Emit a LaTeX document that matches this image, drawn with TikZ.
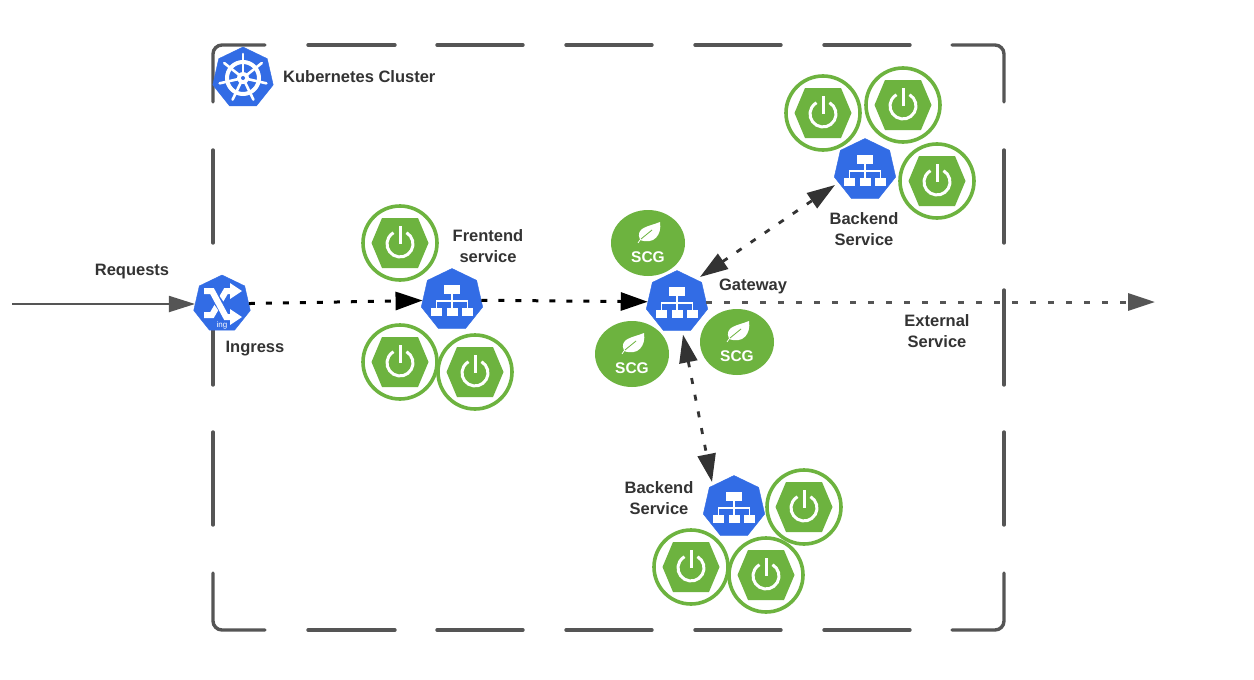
\documentclass[tikz,border=0pt]{standalone}
\usepackage{fontspec}
\setmainfont{Liberation Sans}
\usetikzlibrary{arrows.meta,shapes.geometric}
\definecolor{kblue}{HTML}{326CE5}
\definecolor{sgreen}{HTML}{6DB33F}
\definecolor{bordergray}{HTML}{555555}
\definecolor{lbl}{HTML}{333333}
\tikzset{
  kubeshape/.style={regular polygon,regular polygon sides=7,fill=kblue,draw=kblue,inner sep=0pt,minimum size=#1},
  podring/.style={circle,draw=sgreen,line width=3.6pt,fill=white,inner sep=0pt,minimum size=74pt},
  scgnode/.style={ellipse,fill=sgreen,inner sep=0pt,minimum width=74pt,minimum height=66pt},
  lab/.style={font=\fontsize{16.5}{20.5}\selectfont\bfseries,text=lbl,align=center,inner sep=0pt},
  frame/.style={draw=bordergray,line width=3.4pt,line cap=round,rounded corners=9pt},
  whiteline/.style={draw=white,line width=1.5pt},
  flow/.style={draw=black,line width=3pt,dash pattern=on 6pt off 11pt,-{Triangle[length=27pt,width=18pt]}},
  flowgray/.style={draw=bordergray,line width=3pt,dash pattern=on 6pt off 12pt,-{Triangle[length=27pt,width=17pt]}},
  twoway/.style={draw=lbl,line width=2.8pt,dash pattern=on 6pt off 11pt,{Triangle[length=28pt,width=18pt]}-{Triangle[length=28pt,width=18pt]}},
}
\newcommand{\powerpod}[3]{%
  \node[podring] (#1) at (#2,#3) {};
  \begin{scope}[shift={(#2,#3)}]
    \fill[sgreen] (-28.5,0) -- (-18,-25) -- (18,-25) -- (28.5,0) -- (18,25) -- (-18,25) -- cycle;
    \draw[white,line width=3pt] (6.5,-10.3) arc[start angle=300,end angle=600,radius=13];
    \draw[white,line width=3pt] (0,-17) -- (0,1);
  \end{scope}}
\newcommand{\svcnode}[4][63pt]{%
  \node[kubeshape=#1] (#2) at (#3,#4) {};
  \begin{scope}[shift={(#3,#4)}]
    \fill[white] (-8,-15) rectangle (8,-6.5);
    \fill[white] (-21,8) rectangle (-10,15.5);
    \fill[white] (-5.5,8) rectangle (5.5,15.5);
    \fill[white] (10,8) rectangle (21,15.5);
    \draw[whiteline] (0,-6.5) -- (0,8);
    \draw[whiteline] (-15.5,8) -- (-15.5,1) -- (15.5,1) -- (15.5,8);
  \end{scope}}
\newcommand{\scg}[3]{%
  \node[scgnode] (#1) at (#2,#3) {};
  \begin{scope}[shift={(#2,#3)}]
    \fill[white] (-8,-3) .. controls (-13,-16) and (0,-16) .. (12,-21) .. controls (14,-8) and (6,2) .. (-8,-3) -- cycle;
    \draw[white,line width=.8pt] (-10,0) -- (-8,-3);
    \draw[sgreen,line width=.8pt] (-7,-4) -- (4,-13);
    \node[font=\fontsize{15.5}{16}\selectfont\bfseries,text=white,inner sep=0pt] (#1text) at (0,14) {SCG};
  \end{scope}}
\begin{document}
\begin{tikzpicture}[x=1pt,y=-1pt]
\useasboundingbox[fill=white] (0,0) rectangle (1254,680);
% cluster frame
\draw[frame] (265,45) -- (213,45) -- (213,102);
\draw[frame] (952,45) -- (1004,45) -- (1004,102);
\draw[frame] (213,573) -- (213,630) -- (265,630);
\draw[frame] (1004,573) -- (1004,630) -- (952,630);
\foreach \a/\b in {308/395,437/523,566/652,695/781,824/910}{
  \draw[frame] (\a,45) -- (\b,45);
  \draw[frame] (\a,630) -- (\b,630);
}
\foreach \a/\b in {150/243,290/385,432/525}{
  \draw[frame] (213,\a) -- (213,\b);
  \draw[frame] (1004,\a) -- (1004,\b);
}
% cluster icon
\node[kubeshape=62pt] (cluster) at (243,78) {};
\begin{scope}[shift={(243,78)}]
  \draw[white,line width=4pt] (0,0) circle (16);
  \foreach \t in {0,...,6}{
    \draw[white,line width=2.6pt,line cap=round] (0,0) -- (-90+\t*51.43:24);
  }
  \fill[white] (0,0) circle (6);
  \fill[kblue] (0,0) circle (2);
\end{scope}
\node[lab,anchor=west] (clusterlabel) at (283,77) {Kubernetes Cluster};
% coordinates
\coordinate (src) at (12,304);
\coordinate (ext) at (1155,302);
% pods
\powerpod{fa}{400}{243}
\powerpod{fb}{400}{362}
\powerpod{fc}{475}{372}
\powerpod{ba}{823}{113}
\powerpod{bb}{903}{105}
\powerpod{bc}{937}{181}
\powerpod{ca}{804}{507}
\powerpod{cb}{691}{567}
\powerpod{cc}{766}{575}
% scg
\scg{sa}{648}{243}
\scg{sb}{632}{354}
\scg{sc}{737}{342}
% services
\node[kubeshape=58pt] (ingress) at (222,304) {};
\begin{scope}[shift={(222,304)}]
  \draw[white,line width=6pt] (-18,11) -- (-10,11) -- (4,-13) -- (10,-13);
  \draw[kblue,line width=9pt] (-8,-8) -- (3,8);
  \draw[white,line width=6pt] (-18,-13) -- (-10,-13) -- (4,13) -- (10,13);
  \fill[white] (8,-21) -- (20,-13) -- (8,-5) -- cycle;
  \fill[white] (8,5) -- (20,13) -- (8,21) -- cycle;
  \node[font=\fontsize{8}{9}\selectfont,text=white,inner sep=0pt] (ingresstext) at (0,21) {ing};
\end{scope}
\svcnode{frontend}{452}{300}
\svcnode{gateway}{677}{302}
\svcnode{backa}{865}{170}
\svcnode{backb}{734}{507}
% connectors
\draw[draw=bordergray,line width=1.8pt,-{Triangle[length=26pt,width=16pt]}] (src) -- (ingress);
\draw[flow] (ingress) -- (frontend);
\draw[flow] (frontend) -- (gateway);
\draw[flowgray] (gateway) -- (ext);
\draw[twoway] ([shift={(23,-25)}]gateway.center) -- ([shift={(-30,15)}]backa.center);
\draw[twoway] ([shift={(6,4)}]gateway.south) -- ([shift={(-22,-25)}]backb.center);
% labels
\node[lab] (requests) at (132,272) {Requests};
\node[lab] (ingresslabel) at (255,349) {Ingress};
\node[lab] (frontendlabel) at (488,246) {Frentend\\service};
\node[lab] (gatewaylabel) at (753,286) {Gateway};
\node[lab] (extlabel) at (937,331) {External\\Service};
\node[lab] (backalabel) at (864,229) {Backend\\Service};
\node[lab] (backblabel) at (659,498) {Backend\\Service};
\end{tikzpicture}
\end{document}
